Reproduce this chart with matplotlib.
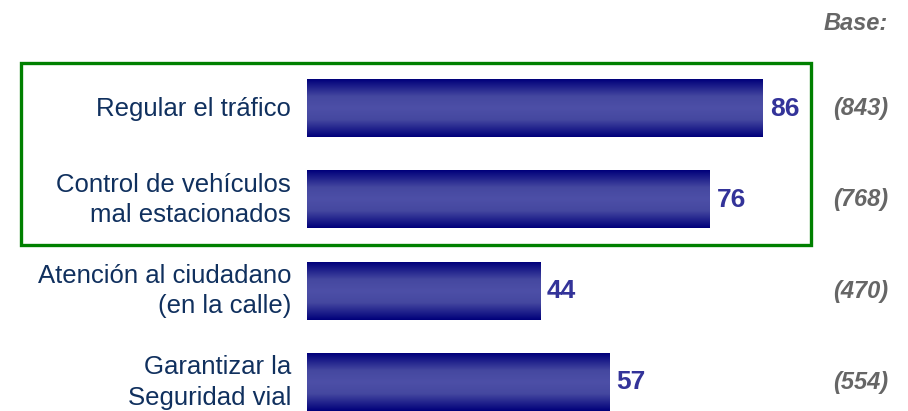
import matplotlib.pyplot as plt
import matplotlib.transforms as mtransforms
from matplotlib.colors import LinearSegmentedColormap
from matplotlib.patches import Rectangle
import numpy as np

# Datos
categorias = [
    "Regular el tráfico",
    "Control de vehículos\nmal estacionados",
    "Atención al ciudadano\n(en la calle)",
    "Garantizar la\nSeguridad vial",
]
valores = [86, 76, 44, 57]
bases = ["(843)", "(768)", "(470)", "(554)"]

plt.rcParams['font.family'] = ['Liberation Sans', 'DejaVu Sans']

W, H = 908, 411
fig = plt.figure(figsize=(W / 100, H / 100), dpi=100)

# Eje de las barras: x=0 en px 307, ~5.3 px por unidad
ax = fig.add_axes([307 / W, 0, 1 - 307 / W, 1])
ax.axis('off')

y = np.arange(len(valores))
barras = ax.barh(y, valores, height=0.625, color='none')

# Degradado vertical en cada barra
cmap = LinearSegmentedColormap.from_list(
    'azul', [(0, '#00007A'), (0.3, '#4548A0'), (0.5, '#4D4FA7'),
             (0.7, '#4548A0'), (1, '#00007A')])
grad = np.linspace(0, 1, 256).reshape(-1, 1)
for p in barras.patches:
    x0, y0 = p.get_x(), p.get_y()
    ax.imshow(grad, cmap=cmap, aspect='auto', interpolation='bilinear',
              extent=[x0, x0 + p.get_width(), y0 + p.get_height(), y0],
              zorder=2)
ax.set_xlim(0, (W - 307) / 5.3)
ax.set_ylim((H - 108.5) / 91.3, -108.5 / 91.3)

# Valores al final de cada barra
for yi, v in zip(y, valores):
    ax.text(v + 1.3, yi, str(v), ha='left', va='center', fontsize=19,
            fontweight='bold', color='#333399')

# Etiquetas y bases
trans = mtransforms.blended_transform_factory(fig.transFigure, ax.transData)
for yi, cat, b in zip(y, categorias, bases):
    ax.text(291 / W, yi, cat, transform=trans, ha='right', va='center',
            fontsize=18.5, color='#10305E', linespacing=1.33, clip_on=False)
    ax.text(888 / W, yi, b, transform=trans, ha='right', va='center',
            fontsize=17, fontstyle='italic', fontweight='bold',
            color='#666666', clip_on=False)

fig.text(888 / W, 1 - 23 / H, "Base:", ha='right', va='center', fontsize=17,
         fontstyle='italic', fontweight='bold', color='#666666')

# Recuadro verde
fig.patches.append(Rectangle((21 / W, 1 - 245 / H), (811 - 21) / W,
                             (245 - 63) / H, transform=fig.transFigure,
                             fill=False, edgecolor='#008000', linewidth=2.4))

fig.savefig('out.png', dpi=100)
